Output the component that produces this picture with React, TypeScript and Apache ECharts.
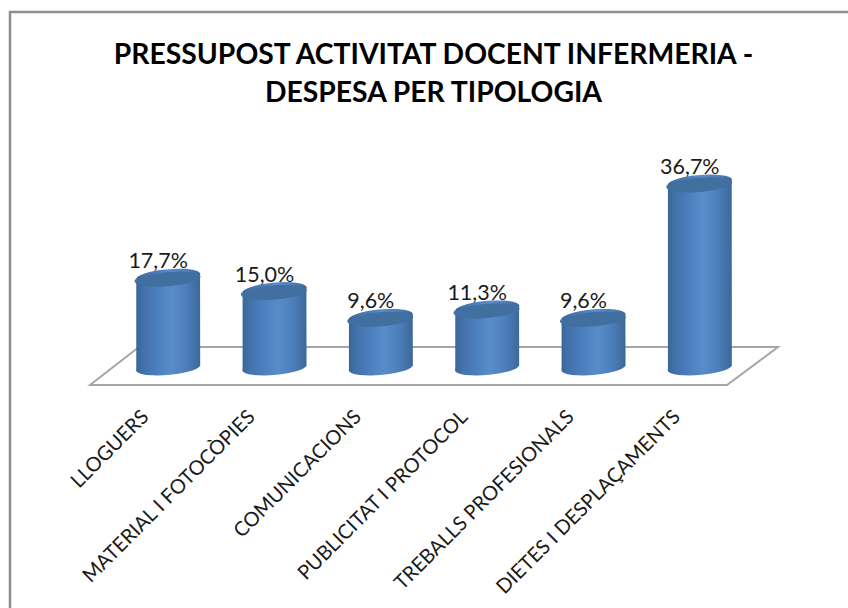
import React, { useEffect, useRef } from "react";
import * as echarts from "echarts";

const titleLines = ["PRESSUPOST ACTIVITAT DOCENT INFERMERIA -", "DESPESA PER TIPOLOGIA"];
const categories = [
  "LLOGUERS",
  "MATERIAL I FOTOCÒPIES",
  "COMUNICACIONS",
  "PUBLICITAT I PROTOCOL",
  "TREBALLS PROFESIONALS",
  "DIETES I DESPLAÇAMENTS",
];
const values = [17.7, 15.0, 9.6, 11.3, 9.6, 36.7];
const FONT = "Lato, 'Open Sans', sans-serif";

const fmt = (v: number) => v.toFixed(1).replace(".", ",") + "%";

export default function App() {
  const ref = useRef<HTMLDivElement>(null);
  useEffect(() => {
    const chart = echarts.init(ref.current!, null, { renderer: "svg" });
    const sideFill = new echarts.graphic.LinearGradient(0, 0, 1, 0, [
      { offset: 0, color: "#38659b" },
      { offset: 0.12, color: "#4372ab" },
      { offset: 0.35, color: "#4c80c0" },
      { offset: 0.55, color: "#598dc9" },
      { offset: 0.8, color: "#4b7db9" },
      { offset: 1, color: "#3d6898" },
    ]);
    chart.setOption({
      animation: false,
      backgroundColor: "#ffffff",
      title: {
        text: titleLines.join("\n"),
        left: 428.5,
        top: 29,
        textAlign: "center",
        textStyle: { fontFamily: FONT, fontSize: 28.3, fontWeight: "bold", color: "#000", lineHeight: 38 },
      },
      graphic: [
        {
          type: "polyline",
          z: 0,
          shape: { points: [[10, 620], [10, 12], [860, 12]] },
          style: { stroke: "#8e8e93", lineWidth: 2.5, fill: "none" },
        },
        {
          type: "polygon",
          z: 0,
          shape: { points: [[90, 385], [139, 347], [778, 347], [727, 385]] },
          style: { stroke: "#a6a6a6", lineWidth: 2, fill: "#ffffff" },
        },
      ],
      grid: { left: 115, top: 167.6, width: 638, height: 198.4, containLabel: false },
      xAxis: {
        type: "category",
        data: categories,
        axisLine: { show: false },
        axisTick: { show: false },
        axisLabel: {
          rotate: 45,
          interval: 0,
          margin: 38,
          align: "right",
          verticalAlign: "bottom",
          padding: [0, 23, 1, 0],
          fontFamily: FONT,
          fontSize: 20,
          color: "#1a1a1a",
        },
      },
      yAxis: { type: "value", min: 0, max: 40, show: false },
      series: [
        {
          type: "custom",
          data: values.map((v, i) => [i, v]),
          encode: { x: 0, y: 1 },
          z: 5,
          renderItem: (_p: any, api: any) => {
            const i = api.value(0);
            const v = api.value(1);
            const top = api.coord([i, v]);
            const base = api.coord([i, 0]);
            const rx = api.size([1, 0])[0] * 0.3;
            const ry = 7.5;
            const t = 3;
            const rot = -5;
            const l = top[0] - rx;
            const r = top[0] + rx;
            const arc = (sweep: number, x: number, y: number) =>
              `A ${rx} ${ry} ${rot} 1 ${sweep} ${x} ${y}`;
            const side =
              `M ${l} ${top[1] + t} L ${l} ${base[1] + t} ` +
              arc(0, r, base[1] - t) +
              ` L ${r} ${top[1] - t} ` +
              arc(0, l, top[1] + t) +
              " Z";
            const cap =
              `M ${l} ${top[1] + t} ` +
              arc(1, r, top[1] - t) +
              " " +
              arc(1, l, top[1] + t) +
              " Z";
            return {
              type: "group",
              children: [
                { type: "path", shape: { pathData: side }, style: { fill: sideFill } },
                { type: "path", shape: { pathData: cap }, style: { fill: "#416f9f" } },
                {
                  type: "text",
                  x: top[0] - 10,
                  y: top[1] - 7,
                  style: {
                    text: fmt(v),
                    fontFamily: FONT,
                    fontSize: 21.5,
                    fill: "#1a1a1a",
                    align: "center",
                    verticalAlign: "bottom",
                  },
                },
              ],
            };
          },
        },
      ],
    });
    return () => chart.dispose();
  }, []);
  return <div ref={ref} style={{ position: "absolute", left: 0, top: 0, width: 848, height: 608 }} />;
}
